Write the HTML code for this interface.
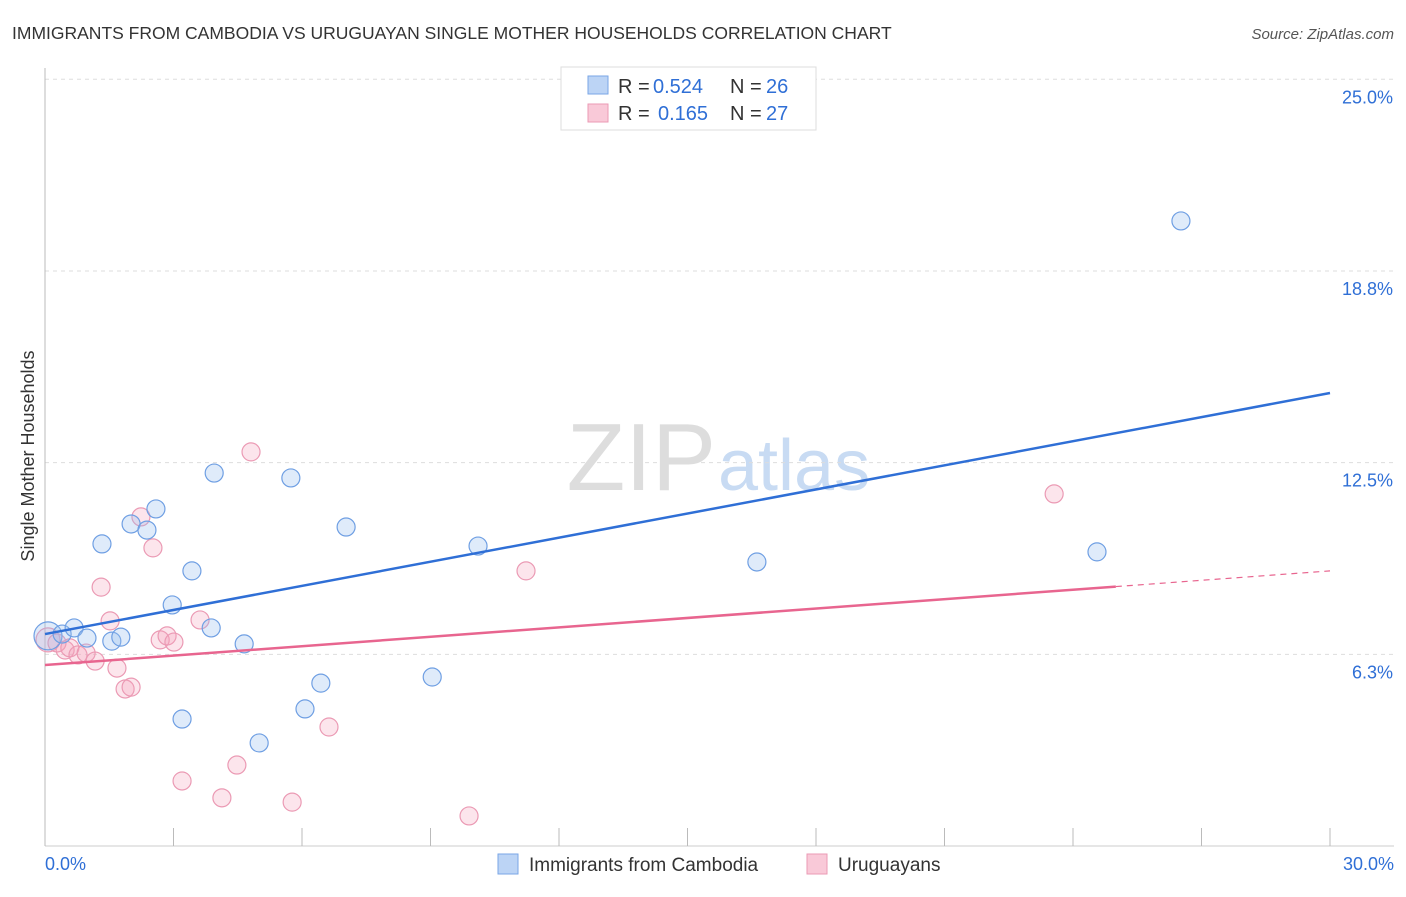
<!DOCTYPE html>
<html><head><meta charset="utf-8"><style>
body{margin:0;background:#fff;font-family:"Liberation Sans",sans-serif;}
svg text{font-family:"Liberation Sans",sans-serif;}
</style></head><body>
<svg id="c" width="1406" height="892" xmlns="http://www.w3.org/2000/svg">
<text x="12" y="39" font-size="17.5" fill="#333">IMMIGRANTS FROM CAMBODIA VS URUGUAYAN SINGLE MOTHER HOUSEHOLDS CORRELATION CHART</text>
<text x="1394" y="39" font-size="15" fill="#555" font-style="italic" text-anchor="end">Source: ZipAtlas.com</text>
<text x="716" y="490" font-size="96" fill="#ddd" font-family="Liberation Serif" text-anchor="end">ZIP</text>
<text x="718" y="490" font-size="72" fill="#c8dbf3">atlas</text>
<text transform="translate(34,456) rotate(-90)" font-size="18" fill="#333" text-anchor="middle">Single Mother Households</text>
<g id="grid"></g><g id="pts"></g><g id="lines"></g>
<g>
<rect x="561" y="67" width="255" height="63" fill="#fff" stroke="#ddd"/>
<rect x="588" y="76" width="20" height="18" fill="#bcd4f5" stroke="#7aa6e6"/>
<rect x="588" y="104" width="20" height="18" fill="#f9c9d8" stroke="#eb9ab4"/>
<text x="618" y="93" font-size="20" fill="#333">R =</text>
<text x="653" y="93" font-size="20" fill="#2f6fd6">0.524</text>
<text x="730" y="93" font-size="20" fill="#333">N =</text>
<text x="766" y="93" font-size="20" fill="#2f6fd6">26</text>
<text x="618" y="120" font-size="20" fill="#333">R =</text>
<text x="658" y="120" font-size="20" fill="#2f6fd6">0.165</text>
<text x="730" y="120" font-size="20" fill="#333">N =</text>
<text x="766" y="120" font-size="20" fill="#2f6fd6">27</text>
</g>
<g>
<rect x="498" y="854" width="20" height="20" fill="#bcd4f5" stroke="#7aa6e6"/>
<text x="529" y="871" font-size="19" fill="#333">Immigrants from Cambodia</text>
<rect x="807" y="854" width="20" height="20" fill="#f9c9d8" stroke="#eb9ab4"/>
<text x="838" y="871" font-size="19" fill="#333">Uruguayans</text>
</g>
</svg>
<script>
const yTicks=[25,18.75,12.5,6.25];
const yTickLabels=["25.0%","18.8%","12.5%","6.3%"];
const xTickCount=10;
const xLabels=["0.0%","30.0%"];
const blueX=[0.07,0.40,0.68,0.98,1.33,1.56,1.77,2.01,2.38,2.59,2.97,3.20,3.43,3.88,3.95,4.65,5.00,5.74,6.07,6.44,7.03,9.04,10.11,16.62,24.56,26.52];
const blueY=[6.85,6.91,7.11,6.78,9.85,6.68,6.81,10.50,10.30,10.99,7.86,4.14,8.97,7.11,12.16,6.59,3.36,12.00,4.47,5.31,10.40,5.51,9.78,9.26,9.59,20.38];
const pinkX=[0.07,0.28,0.47,0.58,0.77,0.96,1.17,1.31,1.52,1.68,1.87,2.01,2.24,2.52,2.69,2.85,3.01,3.20,3.62,4.13,4.48,4.81,5.77,6.63,9.90,11.23,23.56];
const pinkY=[6.72,6.62,6.39,6.46,6.23,6.29,6.03,8.44,7.34,5.80,5.12,5.18,10.73,9.72,6.72,6.85,6.65,2.12,7.37,1.57,2.64,12.85,1.43,3.88,0.98,8.97,11.48];
const blueTrend=[6.91,14.77];
const pinkTrend=[5.90,8.97];
const pinkSolidEnd=25;
const X0=45,X1=1330,Y0=846;
const xs=v=>X0+v/30*(X1-X0);
const ys=v=>Y0-v*30.67;
const NS="http://www.w3.org/2000/svg";
function mk(t,a,p){const e=document.createElementNS(NS,t);for(const k in a)e.setAttribute(k,a[k]);p.appendChild(e);return e;}
const grid=document.getElementById('grid');
yTicks.forEach((v,i)=>{
 const l=mk('line',{x1:X0,x2:X1+64,y1:ys(v),y2:ys(v),stroke:'#ddd','stroke-dasharray':'4,4'},grid);
 
 
 const t=mk('text',{x:1393,y:ys(v)+24,'font-size':18,fill:'#2f6fd6','text-anchor':'end'},grid);
 t.textContent=yTickLabels[i];
 
 
});
const ax=mk('line',{x1:X0,x2:X0,y1:68,y2:Y0,stroke:'#bbb'},grid);


const bx=mk('line',{x1:X0,x2:1394,y1:Y0,y2:Y0,stroke:'#ccc'},grid);


for(let i=0;i<=xTickCount;i++){
 const v=i*30/xTickCount;
 const t=mk('line',{x1:xs(v),x2:xs(v),y1:828,y2:Y0,stroke:'#bbb'},grid);
 
 
}
[[0,'start',45],[30,'end',1394]].forEach((d,i)=>{
 const t=mk('text',{x:d[2],y:870,'font-size':18,fill:'#2f6fd6','text-anchor':d[1]},grid);
 t.textContent=xLabels[i];
 
 
});
const pts=document.getElementById('pts');
pinkX.forEach((x,i)=>{
 const c=mk('circle',{cx:xs(x),cy:ys(pinkY[i]),r:i==0?12:9,fill:'rgba(244,160,188,0.28)',stroke:'#eb9ab4','stroke-width':1.2},pts);
 
 
});
blueX.forEach((x,i)=>{
 const c=mk('circle',{cx:xs(x),cy:ys(blueY[i]),r:i==0?14:9,fill:'rgba(150,190,240,0.3)',stroke:'#6f9fe3','stroke-width':1.2},pts);
 
 
});
const L=document.getElementById('lines');
const bl=mk('line',{x1:xs(0),y1:ys(blueTrend[0]),x2:xs(30),y2:ys(blueTrend[1]),stroke:'#2f6fd6','stroke-width':2.5},L);


const pm=pinkTrend[0]+(pinkTrend[1]-pinkTrend[0])*pinkSolidEnd/30;
const pl=mk('line',{x1:xs(0),y1:ys(pinkTrend[0]),x2:xs(pinkSolidEnd),y2:ys(pm),stroke:'#e8658f','stroke-width':2.5},L);


const pd=mk('line',{x1:xs(pinkSolidEnd),y1:ys(pm),x2:xs(30),y2:ys(pinkTrend[1]),stroke:'#e8658f','stroke-width':1.2,'stroke-dasharray':'6,5'},L);


</script>
</body></html>
